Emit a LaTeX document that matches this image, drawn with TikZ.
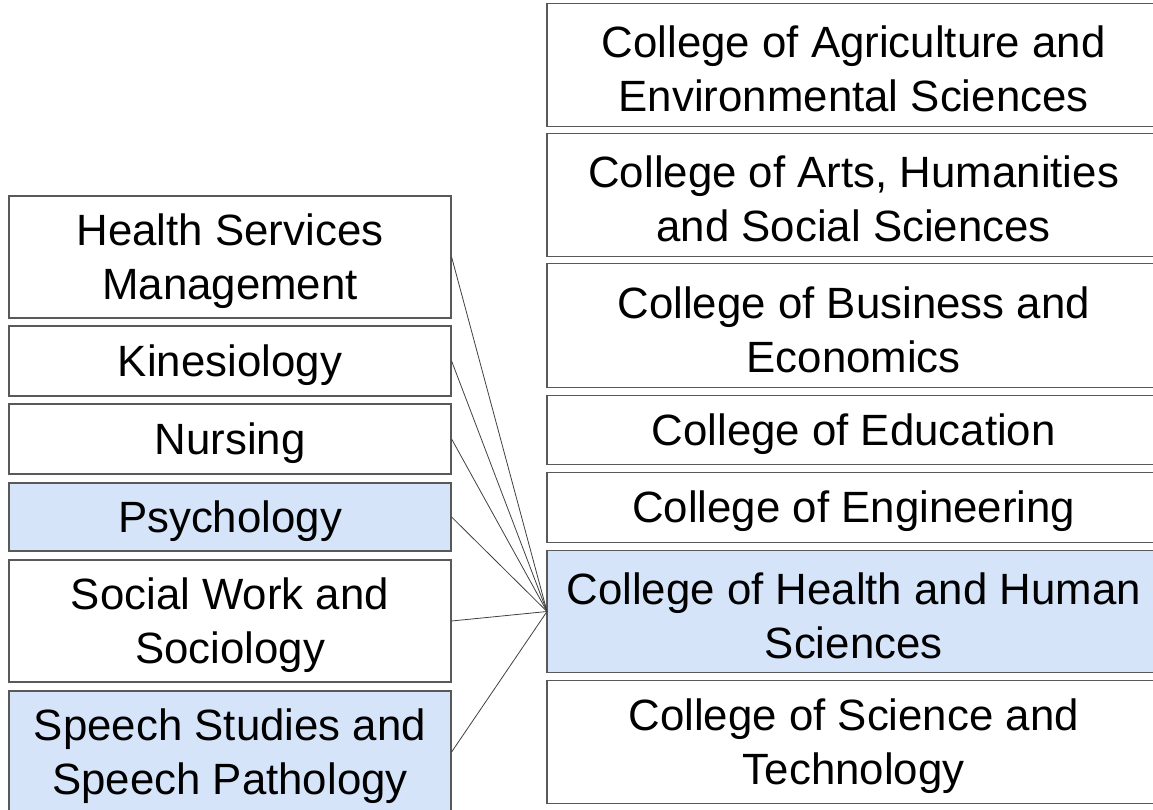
\documentclass[tikz,border=0pt]{standalone}
\usepackage{fontspec}
\setmainfont{Liberation Sans}
\definecolor{boxline}{HTML}{595959}
\definecolor{hl}{HTML}{D6E4F9}
\begin{document}
\begin{tikzpicture}[x=1pt,y=-1pt,
  every label/.style={align=center,inner sep=0pt,yshift=-4pt,
    font=\fontsize{43.8}{54}\selectfont,text=black},
  unit/.style={draw=boxline,line width=1.2pt,rectangle,inner sep=0pt},
  dept/.style={unit,minimum width=442pt},
  coll/.style={rectangle,inner sep=0pt,anchor=west,minimum width=620pt},
  ctext/.style={label={[xshift=-3.5pt]center:{#1}}},
  dtext/.style={label={center:{#1}}},
  hi/.style={fill=hl},
  side/.style={draw=boxline,line width=1.2pt},
  link/.style={draw=black!75,line width=0.8pt}]
\useasboundingbox (0,0) rectangle (1153,810);
% colleges
\node[coll,minimum height=122pt,ctext={College of Agriculture and\\Environmental Sciences}] (agr) at (547,65) {};
\node[coll,minimum height=122pt,ctext={College of Arts, Humanities\\and Social Sciences}] (arts) at (547,195) {};
\node[coll,minimum height=123pt,ctext={College of Business and\\Economics}] (bus) at (547,325.5) {};
\node[coll,minimum height=68pt,ctext={College of Education}] (edu) at (547,430) {};
\node[coll,minimum height=69pt,ctext={College of Engineering}] (eng) at (547,507.5) {};
\node[coll,hi,minimum height=121pt,ctext={College of Health and Human\\Sciences}] (hhs) at (547,611.5) {};
\node[coll,minimum height=122pt,ctext={College of Science and\\Technology}] (sci) at (547,742) {};
\foreach \c in {agr,arts,bus,edu,eng,hhs,sci}
  \draw[side] (\c.north east) -- (\c.north west) -- (\c.south west) -- (\c.south east);
% departments
\node[dept,minimum height=122pt,dtext={Health Services\\Management}] (hsm) at (230,257) {};
\node[dept,minimum height=70pt,dtext={Kinesiology}] (kin) at (230,361) {};
\node[dept,minimum height=70pt,dtext={Nursing}] (nur) at (230,439) {};
\node[dept,hi,minimum height=68pt,dtext={Psychology}] (psy) at (230,517) {};
\node[dept,minimum height=122pt,dtext={Social Work and\\Sociology}] (sw) at (230,621) {};
\node[dept,hi,minimum height=122pt,dtext={Speech Studies and\\Speech Pathology}] (sp) at (230,752) {};
% connectors
\foreach \d in {hsm,kin,nur,psy,sw,sp}
  \draw[link] (\d.east) -- (hhs.west);
\end{tikzpicture}
\end{document}
